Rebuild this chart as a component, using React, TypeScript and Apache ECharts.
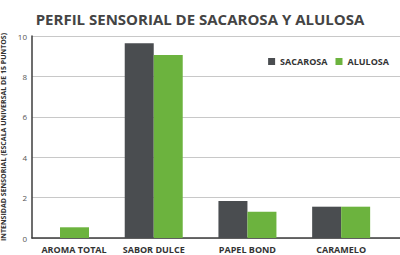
import React, { useEffect, useRef } from "react";
import * as echarts from "echarts";

const categories = ["AROMA TOTAL", "SABOR DULCE", "PAPEL BOND", "CARAMELO"];
const sacarosa = [0, 9.64, 1.83, 1.55];
const alulosa = [0.53, 9.06, 1.3, 1.55];
const yTicks = [0, 2, 4, 6, 8, 10];

export default function App() {
  const ref = useRef<HTMLDivElement>(null);
  useEffect(() => {
    if (!ref.current) return;
    const chart = echarts.init(ref.current, undefined, { renderer: "svg" });
    const font = "'Open Sans', sans-serif";
    chart.setOption({
      animation: false,
      title: {
        text: "PERFIL SENSORIAL DE SACAROSA Y ALULOSA",
        left: "center",
        top: 6,
        textStyle: { fontSize: 15, fontWeight: "bold", color: "#444", fontFamily: font },
      },
      legend: {
        right: 6,
        top: 52,
        itemWidth: 7,
        itemHeight: 7,
        itemGap: 8,
        icon: "rect",
        textStyle: { fontSize: 9, fontWeight: "bold", color: "#333", fontFamily: font },
        data: ["SACAROSA", "ALULOSA"],
      },
      grid: { left: 32, right: 0, top: 36, bottom: 17, containLabel: false, outerBoundsMode: "none" },
      xAxis: {
        type: "value",
        min: -0.299,
        max: 3.628,
        axisLine: { show: true, onZero: false, lineStyle: { color: "#3c3c3c", width: 1.5 } },
        axisTick: { show: false },
        splitLine: { show: false },
        axisLabel: {
          customValues: [0, 1, 2, 3],
          margin: 7,
          fontSize: 9,
          fontWeight: "bold",
          color: "#333",
          fontFamily: font,
          formatter: (v: number) => {
            const i = Math.round(v);
            return i === 0 ? `{sp| }{t|${categories[i]}}` : categories[i];
          },
          rich: {
            sp: { width: 28, fontSize: 9 },
            t: { fontSize: 9, fontWeight: "bold", color: "#333", fontFamily: font },
          },
        },
      },
      yAxis: {
        type: "value",
        min: yTicks[0],
        max: yTicks[yTicks.length - 1],
        interval: 2,
        name: "INTENSIDAD SENSORIAL (ESCALA UNIVERSAL DE 15 PUNTOS)",
        nameLocation: "middle",
        nameGap: 24,
        nameRotate: 90,
        nameTextStyle: { fontSize: 7, fontWeight: "bold", color: "#333", fontFamily: font },
        axisLine: { show: true, onZero: false, lineStyle: { color: "#3c3c3c", width: 1.5 } },
        axisTick: { show: false },
        splitLine: { show: true, lineStyle: { color: "#c8c8c8", width: 1 } },
        axisLabel: { fontSize: 8, color: "#555", margin: 5, fontFamily: font },
      },
      series: [
        {
          name: "SACAROSA",
          type: "bar",
          barWidth: 29,
          barGap: "0%",
          itemStyle: { color: "#4a4d50" },
          data: sacarosa.map((v, i) => [i, v]),
        },
        {
          name: "ALULOSA",
          type: "bar",
          barWidth: 29,
          barGap: "0%",
          itemStyle: { color: "#6cb33e" },
          data: alulosa.map((v, i) => [i, v]),
        },
      ],
    });
    return () => chart.dispose();
  }, []);
  return <div ref={ref} style={{ width: 400, height: 255, position: "absolute", left: 0, top: 0 }} />;
}
